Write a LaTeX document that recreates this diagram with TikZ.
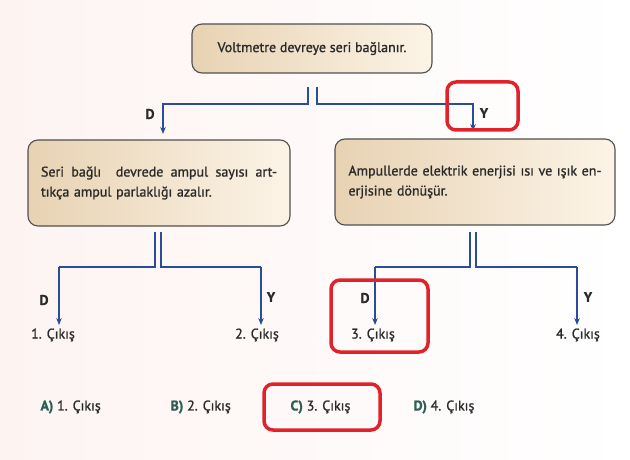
\documentclass[tikz,border=0pt]{standalone}
\usepackage{fontspec}
\setmainfont{PT Sans}[RawFeature={embolden=1.1}]
\usetikzlibrary{arrows.meta}
\definecolor{bgpink}{HTML}{FDF4F2}
\definecolor{boxL}{HTML}{E8D2B3}
\definecolor{boxR}{HTML}{FCF4E7}
\definecolor{boxborder}{HTML}{505050}
\definecolor{conn}{HTML}{2B4C9A}
\definecolor{txt}{HTML}{2A2A2A}
\definecolor{ansgreen}{HTML}{2F5E57}
\definecolor{markred}{HTML}{E1222B}
\newcommand{\jline}[2]{\hbox to #1{\spaceskip=0.2em plus 1fil minus 0.05em\relax #2}}
\tikzset{
  qbox/.style={draw=boxborder, line width=1.1pt, rounded corners=10pt,
    left color=boxL, right color=boxR, inner sep=0pt, text=txt,
    font=\fontsize{14}{20}\selectfont},
  link/.style={draw=conn, line width=1.2pt},
  arr/.style={link, -{Stealth[length=7pt,width=5.5pt]}},
  yn/.style={font=\fontsize{14}{15}\selectfont\bfseries, text=txt},
  outlbl/.style={font=\fontsize{14}{15}\selectfont, text=txt},
  ans/.style={font=\fontsize{14}{15}\selectfont, text=txt},
  redmark/.style={draw=markred, line width=3.5pt, rounded corners=9pt},
}
\begin{document}
\begin{tikzpicture}[x=1pt,y=-1pt]
\useasboundingbox (0,0) rectangle (630,460);
\fill[left color=bgpink, right color=white] (0,0) rectangle (630,460);

% boxes
\node[qbox, minimum width=240pt, minimum height=49pt] (top) at (312,48.5) {Voltmetre devreye seri bağlanır.};
\node[qbox, minimum width=262pt, minimum height=86pt, text width=236pt, align=left] (lbox) at (159,183)
  {\jline{236pt}{Seri bağlı\ \ devrede ampul sayısı art-}\\tıkça ampul parlaklığı azalır.};
\node[qbox, minimum width=280pt, minimum height=86pt, text width=253pt, align=left] (rbox) at (475,182)
  {\jline{253pt}{Ampullerde elektrik enerjisi ısı ve ışık en-}\\erjisine dönüşür.};

% top split
\coordinate (t1) at (308,87);
\coordinate (t2) at (317,87);
\coordinate (tl) at (163,104);
\coordinate (tr) at (473,104);
\draw[arr] (t1) |- (tl) -- (163,134);
\draw[arr] (t2) |- (tr) -- (473,131);
\node[yn] (d0) at (150,114) {D};
\node[yn] (y0) at (484,113) {Y};

% left box split
\coordinate (l1) at (155,232);
\coordinate (l2) at (161,232);
\coordinate (lh1) at (59,267);
\coordinate (lh2) at (261,267);
\node[outlbl] (o1) at (53,335) {1. Çıkış};
\node[outlbl] (o2) at (257,335) {2. Çıkış};
\draw[link] (l1) |- (lh1);
\draw[arr] (lh1) -- (o1.north -| lh1);
\draw[link] (l2) |- (lh2);
\draw[arr] (lh2) -- (o2.north -| lh2);
\node[yn] (d1) at (44,300) {D};
\node[yn] (y1) at (271,297) {Y};

% right box split
\coordinate (r1) at (470,232);
\coordinate (r2) at (476,232);
\coordinate (rh1) at (375,267);
\coordinate (rh2) at (577,267);
\node[outlbl] (o3) at (373,335) {3. Çıkış};
\node[outlbl] (o4) at (578,335) {4. Çıkış};
\draw[link] (r1) |- (rh1);
\draw[arr] (rh1) -- (o3.north -| rh1);
\draw[link] (r2) |- (rh2);
\draw[arr] (rh2) -- (o4.north -| rh2);
\node[yn] (d2) at (365,298) {D};
\node[yn] (y2) at (588,297) {Y};

% answers
\node[ans, anchor=west] (aA) at (37,407) {\textcolor{ansgreen}{\bfseries A)} 1. Çıkış};
\node[ans, anchor=west] (aB) at (167,407) {\textcolor{ansgreen}{\bfseries B)} 2. Çıkış};
\node[ans, anchor=west] (aC) at (287,407) {\textcolor{ansgreen}{\bfseries C)} 3. Çıkış};
\node[ans, anchor=west] (aD) at (410,407) {\textcolor{ansgreen}{\bfseries D)} 4. Çıkış};

% red marks
\draw[redmark] (447,82) rectangle (518,130);
\draw[redmark] (331,280) rectangle (428,352);
\draw[redmark] (264,384) rectangle (380,430);
\end{tikzpicture}
\end{document}
